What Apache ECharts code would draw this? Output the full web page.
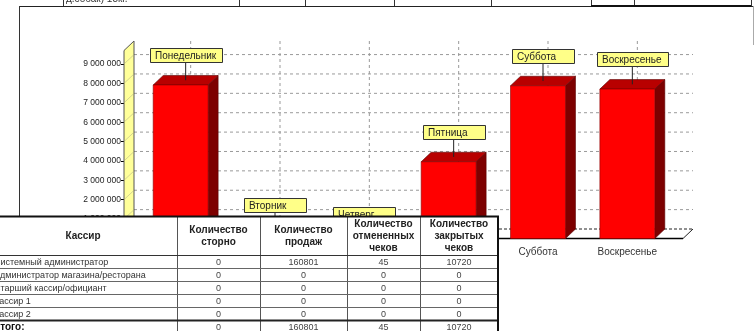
<!DOCTYPE html>
<html>
<head>
<meta charset="utf-8">
<script src="https://cdn.jsdelivr.net/npm/echarts@6/dist/echarts.min.js"></script>
<style>
  html, body { margin: 0; padding: 0; background: #fff; }
  #chart { width: 756px; height: 331px; }
</style>
</head>
<body>
<div id="chart"></div>
<script>
// chart data
const days = ['Понедельник', 'Вторник', 'Четверг', 'Пятница', 'Суббота', 'Воскресенье']
const revenue = [7920000, 200000, 50000, 3960000, 7880000, 7710000]
const yTicks = [1000000, 2000000, 3000000, 4000000, 5000000, 6000000, 7000000, 8000000, 9000000]

// table data
const tableHeaders = ['Кассир', 'Количество\nсторно', 'Количество\nпродаж', 'Количество\nотмененных\nчеков', 'Количество\nзакрытых\nчеков']
const cashiers = ['Системный администратор', 'Администратор магазина/ресторана', 'Старший кассир/официант', 'Кассир 1', 'Кассир 2']
const storno = [0, 0, 0, 0, 0]
const sales = [160801, 0, 0, 0, 0]
const cancelled = [45, 0, 0, 0, 0]
const closed = [10720, 0, 0, 0, 0]
const totalLabel = 'Итого:'
const topRowText = 'д.собак) 15кг.'

const FONT = '"Liberation Sans", Arial, sans-serif'
const DX = 10
const DY = 9.5
// Thursday's callout sits lower in the original
const labelNudge = { 'Четверг': 6 }

const measureCtx = document.createElement('canvas').getContext('2d')
function textWidth(s, font) {
  measureCtx.font = font
  return measureCtx.measureText(s).width
}

function line(x1, y1, x2, y2, style) {
  return { type: 'line', shape: { x1, y1, x2, y2 }, style }
}

function backdrop(cs, api) {
  const left = cs.x - 12
  const right = cs.x + cs.width + 11
  const y0 = cs.y + cs.height
  const yTop = cs.y
  const dash = { stroke: '#9a9a9a', lineWidth: 1, lineDash: [3, 3] }
  const els = []
  yTicks.forEach(t => {
    const y = api.coord([0, t])[1]
    els.push(line(left + DX, y - DY, right + DX, y - DY, dash))
  })
  days.forEach((d, i) => {
    const x = api.coord([i, 0])[0] + DX
    els.push(line(x, yTop - DY, x, y0 - DY, dash))
  })
  // floor
  els.push({
    type: 'polygon',
    shape: { points: [[left, y0], [left + DX, y0 - DY], [right + DX, y0 - DY], [right, y0]] },
    style: { fill: '#fff' }
  })
  els.push(line(left + DX, y0 - DY, right + DX, y0 - DY, { stroke: '#222', lineWidth: 1, lineDash: [3, 2] }))
  els.push(line(right, y0, right + DX, y0 - DY, { stroke: '#222', lineWidth: 1 }))
  els.push(line(left, y0, right, y0, { stroke: '#000', lineWidth: 1.5 }))
  // yellow side wall
  els.push({
    type: 'polygon',
    shape: { points: [[left, yTop], [left + DX, yTop - DY], [left + DX, y0 - DY], [left, y0]] },
    style: { fill: '#ffff99', stroke: '#555', lineWidth: 1 }
  })
  yTicks.forEach(t => {
    const y = api.coord([0, t])[1]
    els.push(line(left + 1, y - 1, left + DX - 1, y - DY + 1, { stroke: '#b5b58a', lineWidth: 0.6 }))
  })
  return els
}

function renderBar(params, api) {
  const idx = api.value(0)
  const val = api.value(1)
  const base = api.coord([idx, 0])
  const top = api.coord([idx, val])
  const bw = api.size([1, 0])[0] * 0.615
  const x0 = base[0] - bw / 2
  const x1 = base[0] + bw / 2
  const y0 = base[1]
  const yt = top[1]
  const edge = '#5a0000'
  const children = []
  if (params.dataIndex === 0) children.push(...backdrop(params.coordSys, api))

  children.push({
    type: 'polygon',
    shape: { points: [[x1, yt], [x1 + DX, yt - DY], [x1 + DX, y0 - DY], [x1, y0]] },
    style: { fill: '#7d0000', stroke: edge, lineWidth: 0.6 }
  })
  children.push({
    type: 'polygon',
    shape: { points: [[x0, yt], [x0 + DX, yt - DY], [x1 + DX, yt - DY], [x1, yt]] },
    style: { fill: '#b80000', stroke: edge, lineWidth: 0.6 }
  })
  children.push({
    type: 'rect',
    shape: { x: x0, y: yt, width: bw, height: y0 - yt },
    style: { fill: '#ff0000', stroke: '#8a0000', lineWidth: 0.6 }
  })

  // callout label
  const name = days[idx]
  const lx = base[0] + DX / 2
  const boxTop = yt - 37 + (labelNudge[name] || 0)
  const labelFont = '10px ' + FONT
  const w = Math.max(62, textWidth(name, labelFont) + 11)
  children.push(line(lx, boxTop + 14, lx, yt - DY / 2, { stroke: '#222', lineWidth: 1 }))
  children.push({
    type: 'rect',
    shape: { x: Math.round(lx - w / 2) + 0.5, y: Math.round(boxTop) + 0.5, width: Math.round(w), height: 14 },
    style: { fill: '#ffff88', stroke: '#333', lineWidth: 1 }
  })
  children.push({
    type: 'text',
    style: {
      text: name, x: Math.round(lx - w / 2) + 5, y: Math.round(boxTop) + 8,
      font: labelFont, fill: '#222', align: 'left', verticalAlign: 'middle'
    }
  })
  return { type: 'group', children }
}

function withZ(els, z) {
  els.forEach(e => { e.z = z })
  return els
}

// table built from the arrays above
function buildTable() {
  const colX = [-11, 177, 260, 347, 420, 498]
  const tTop = 216.5
  const headBottom = 255.5
  const rowH = 13
  const bottom = 332
  const els = []
  const sum = a => a.reduce((s, v) => s + v, 0)
  const rows = cashiers.map((c, i) => [c, storno[i], sales[i], cancelled[i], closed[i]])
  rows.push([totalLabel, sum(storno), sum(sales), sum(cancelled), sum(closed)])

  els.push({ type: 'rect', shape: { x: colX[0], y: tTop, width: colX[5] - colX[0], height: bottom - tTop }, style: { fill: '#fff' } })
  for (let c = 1; c < 5; c++) {
    els.push(line(colX[c] + 0.5, tTop, colX[c] + 0.5, bottom, { stroke: '#555', lineWidth: 1 }))
  }
  els.push(line(colX[0], headBottom, colX[5], headBottom, { stroke: '#333', lineWidth: 1 }))
  for (let r = 1; r < rows.length - 1; r++) {
    const y = headBottom + r * rowH
    els.push(line(colX[0], y, colX[5], y, { stroke: '#666', lineWidth: 1 }))
  }
  els.push(line(colX[0], headBottom + (rows.length - 1) * rowH, colX[5], headBottom + (rows.length - 1) * rowH, { stroke: '#222', lineWidth: 2 }))
  els.push(line(colX[0], tTop, colX[5] + 1, tTop, { stroke: '#111', lineWidth: 2 }))
  els.push(line(colX[5], tTop, colX[5], bottom, { stroke: '#111', lineWidth: 2 }))

  tableHeaders.forEach((h, c) => {
    els.push({
      type: 'text',
      style: {
        text: h, x: (colX[c] + colX[c + 1]) / 2, y: (tTop + headBottom) / 2 + 0.5,
        font: 'bold 10px ' + FONT, fill: '#222', align: 'center', verticalAlign: 'middle', lineHeight: 12
      }
    })
  })
  rows.forEach((row, r) => {
    const cy = headBottom + r * rowH + rowH / 2 + 0.5
    const isTotal = r === rows.length - 1
    els.push({
      type: 'text',
      style: {
        text: row[0], x: isTotal ? -7 : -6, y: cy,
        font: (isTotal ? 'bold 10px ' : '9px ') + FONT, fill: isTotal ? '#111' : '#333',
        align: 'left', verticalAlign: 'middle'
      }
    })
    for (let c = 1; c < 5; c++) {
      els.push({
        type: 'text',
        style: {
          text: String(row[c]), x: (colX[c] + colX[c + 1]) / 2, y: cy,
          font: '9px ' + FONT, fill: '#444', align: 'center', verticalAlign: 'middle'
        }
      })
    }
  })
  return withZ(els, 100)
}

function buildFrame() {
  const els = []
  const cuts = [63, 239, 305, 394, 491, 591, 634, 751]
  cuts.forEach(x => els.push(line(x + 0.5, 0, x + 0.5, 6.5, { stroke: '#333', lineWidth: 1 })))
  els.push(line(19, 6.5, 753, 6.5, { stroke: '#222', lineWidth: 1.2 }))
  els.push(line(591, 6, 751, 6, { stroke: '#111', lineWidth: 2 }))
  els.push(line(19.5, 6, 19.5, 331, { stroke: '#333', lineWidth: 1 }))
  els.push(line(753.5, 6, 753.5, 45, { stroke: '#aaa', lineWidth: 1 }))
  els.push({
    type: 'text',
    style: { text: topRowText, x: 66, y: -1, font: '10px ' + FONT, fill: '#333', align: 'left', verticalAlign: 'middle' }
  })
  return withZ(els, 1)
}

const chart = echarts.init(document.getElementById('chart'))
const option = {
  animation: false,
  textStyle: { fontFamily: FONT },
  grid: { left: 136, right: 84, top: 50.5, bottom: 92.5 },
  xAxis: {
    type: 'category',
    data: days,
    axisLine: { show: false },
    axisTick: { show: false },
    splitLine: { show: false },
    axisLabel: { interval: 0, margin: 9, fontSize: 10, color: '#333' }
  },
  yAxis: {
    type: 'value',
    min: 0,
    max: 9700000,
    interval: 1000000,
    offset: 12,
    splitLine: { show: false },
    axisLine: { show: true, lineStyle: { color: '#000', width: 1 } },
    axisTick: { show: true, length: 3, lineStyle: { color: '#000' } },
    axisLabel: {
      showMaxLabel: false,
      fontSize: 8.5,
      margin: 3,
      color: '#222',
      formatter: v => String(v).replace(/\B(?=(\d{3})+(?!\d))/g, ' ')
    }
  },
  graphic: { elements: buildFrame().concat(buildTable()) },
  series: [{
    type: 'custom',
    renderItem: renderBar,
    encode: { x: 0, y: 1 },
    clip: false,
    z: 2,
    data: revenue.map((v, i) => [i, v])
  }]
}
chart.setOption(option)
</script>
</body>
</html>
